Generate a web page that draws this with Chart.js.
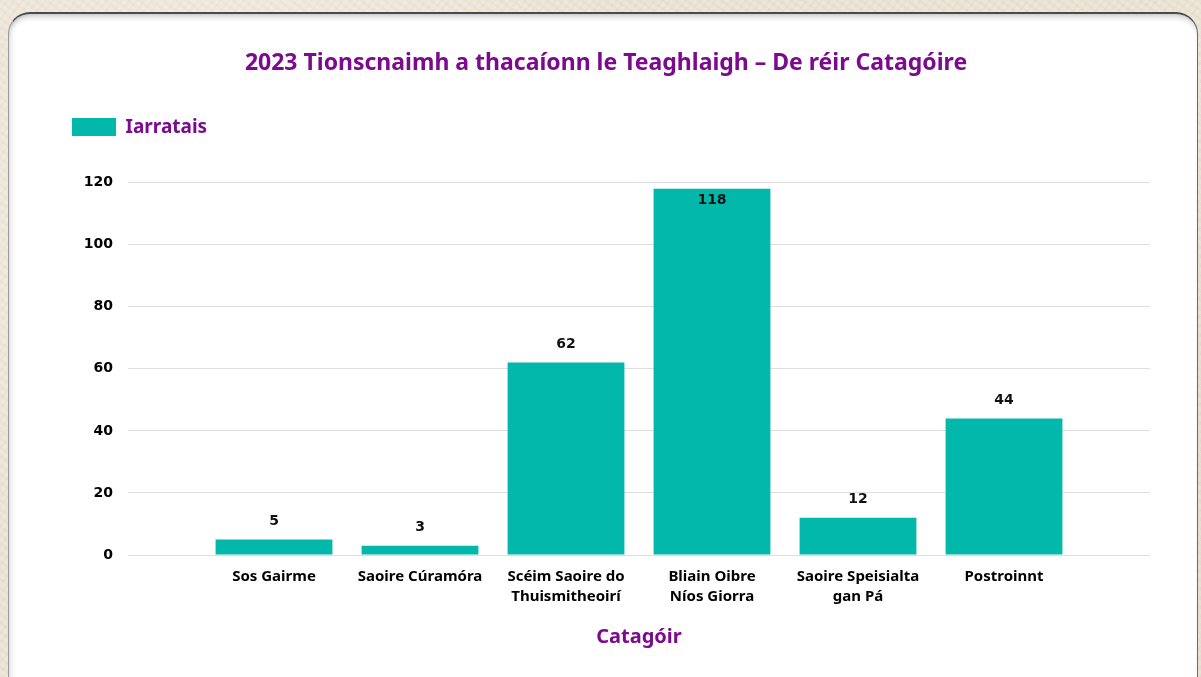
<!DOCTYPE html>
<html>
<head>
<meta charset="utf-8">
<script src="https://cdn.jsdelivr.net/npm/chart.js@4/dist/chart.umd.min.js"></script>
<style>
  html, body { margin: 0; padding: 0; width: 1201px; height: 677px; overflow: hidden; }
  body {
    background-color: #ece4d5;
    background-image:
      radial-gradient(circle at 20% 30%, rgba(255,255,255,0.35) 0, rgba(255,255,255,0) 40%),
      radial-gradient(circle at 80% 70%, rgba(200,185,160,0.25) 0, rgba(200,185,160,0) 45%),
      repeating-linear-gradient(37deg, rgba(180,165,140,0.06) 0 3px, rgba(255,255,255,0.05) 3px 7px),
      repeating-linear-gradient(-52deg, rgba(170,155,130,0.05) 0 2px, rgba(255,255,255,0.04) 2px 6px);
    position: relative;
  }
  .card {
    position: absolute; left: 8px; top: 12px; width: 1190px; height: 700px;
    background: #fff; border-radius: 22px;
    border-top: 2px solid #4a4a4a; border-left: 1px solid #9a9a9a; border-right: 1px solid #6a6a6a;
    box-shadow: inset 0 6px 6px -4px rgba(0,0,0,0.25), inset 6px 0 6px -5px rgba(0,0,0,0.15);
    box-sizing: border-box;
  }
  canvas { position: absolute; left: 0; top: 0; }
</style>
</head>
<body>
<div class="card"></div>
<canvas id="c" width="1201" height="677"></canvas>
<script>
const categories = [
  ["Sos Gairme"],
  ["Saoire Cúramóra"],
  ["Scéim Saoire do", "Thuismitheoirí"],
  ["Bliain Oibre", "Níos Giorra"],
  ["Saoire Speisialta", "gan Pá"],
  ["Postroinnt"]
];
const applications = [5, 3, 62, 118, 12, 44];
const seriesName = "Iarratais";
const yTicks = [0, 20, 40, 60, 80, 100, 120];
const chartTitle = "2023 Tionscnaimh a thacaíonn le Teaghlaigh – De réir Catagóire";
const xTitle = "Catagóir";

const PURPLE = '#7b0a8e';
const TEAL = '#02b8aa';
const SANS = "'Noto Sans', 'Open Sans', sans-serif";
const NUM = "'DejaVu Sans', Verdana, sans-serif";

const legendMargin = {
  id: 'legendMargin',
  beforeInit(chart) {
    const fit = chart.legend.fit;
    chart.legend.fit = function () { fit.bind(chart.legend)(); this.height += 36; };
  }
};

const valueLabels = {
  id: 'valueLabels',
  afterDatasetsDraw(chart) {
    const ctx = chart.ctx;
    const meta = chart.getDatasetMeta(0);
    ctx.save();
    ctx.font = "bold 14px " + NUM;
    ctx.fillStyle = '#111';
    ctx.textAlign = 'center';
    ctx.textBaseline = 'middle';
    meta.data.forEach((bar, i) => {
      let y = bar.y - 18;
      if (y - 8 < chart.chartArea.top) y = bar.y + 12;
      ctx.fillText(String(applications[i]), bar.x, y);
    });
    ctx.restore();
  }
};

new Chart(document.getElementById('c'), {
  type: 'bar',
  data: {
    datasets: [{
      label: seriesName,
      data: categories.map((c, i) => ({ x: i, y: applications[i] })),
      backgroundColor: TEAL,
      borderWidth: 0,
      categoryPercentage: 0.8,
      barPercentage: 1.0
    }]
  },
  options: {
    responsive: false,
    devicePixelRatio: 1,
    animation: false,
    layout: { padding: { left: 62, right: 51, top: 0, bottom: 28 } },
    plugins: {
      title: {
        display: true,
        text: chartTitle,
        color: PURPLE,
        font: { family: SANS, size: 23, weight: 'bold' },
        padding: { top: 50, bottom: 30 }
      },
      legend: {
        display: true,
        position: 'top',
        align: 'start',
        labels: {
          boxWidth: 44,
          boxHeight: 18,
          padding: 10,
          color: PURPLE,
          font: { family: SANS, size: 19, weight: 'bold' }
        }
      },
      tooltip: { enabled: false }
    },
    scales: {
      x: {
        type: 'linear',
        offset: false,
        min: -1,
        max: 6,
        grid: { display: false },
        border: { display: false },
        afterBuildTicks(scale) {
          scale.ticks = categories.map((c, i) => ({ value: i }));
        },
        ticks: {
          stepSize: 1,
          autoSkip: false,
          maxRotation: 0,
          padding: 4,
          color: '#000',
          font: { family: SANS, size: 15, weight: 'bold', lineHeight: 1.3 },
          callback: (v) => categories[v] || ''
        },
        title: {
          display: true,
          text: xTitle,
          color: PURPLE,
          font: { family: SANS, size: 20, weight: 'bold' },
          padding: { top: 15, bottom: 0 }
        }
      },
      y: {
        min: 0,
        max: 120,
        grid: { color: '#dedede', lineWidth: 1, drawTicks: false },
        border: { display: false },
        afterBuildTicks(scale) {
          scale.ticks = yTicks.map(v => ({ value: v }));
        },
        afterFit(scale) { scale.width = 66; },
        ticks: {
          padding: 15,
          color: '#000',
          font: { family: NUM, size: 14, weight: 'bold' }
        }
      }
    }
  },
  plugins: [legendMargin, valueLabels]
});
</script>
</body>
</html>
